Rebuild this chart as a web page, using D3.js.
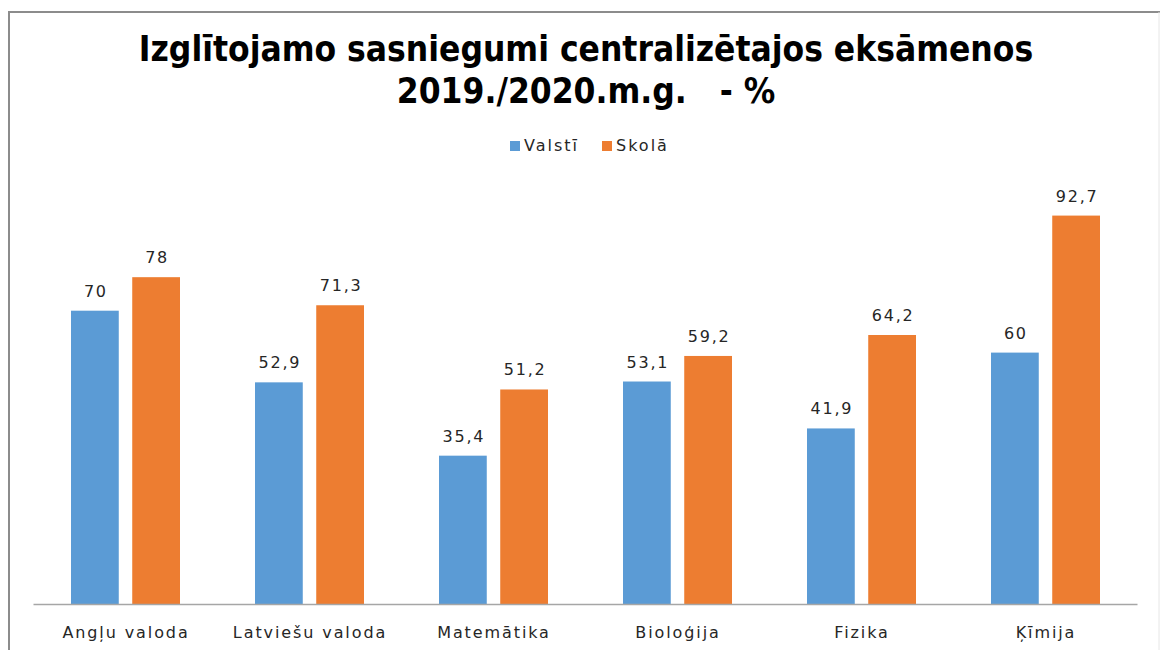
<!DOCTYPE html>
<html>
<head>
<meta charset="utf-8">
<script src="https://cdn.jsdelivr.net/npm/d3@7"></script>
<style>
  body { margin: 0; background: #fff; }
  svg text { font-family: "DejaVu Sans", sans-serif; }
</style>
</head>
<body>
<svg id="chart"></svg>
<script>
const subjects = ["Angļu valoda", "Latviešu valoda", "Matemātika", "Bioloģija", "Fizika", "Ķīmija"];
const seriesNames = ["Valstī", "Skolā"];
const valsti = [70, 52.9, 35.4, 53.1, 41.9, 60];
const skola = [78, 71.3, 51.2, 59.2, 64.2, 92.7];
const seriesColors = ["#5b9bd5", "#ed7d31"];
const titleLines = ["Izglītojamo sasniegumi centralizētajos eksāmenos", "2019./2020.m.g.   - %"];

const width = 1160, height = 650;
const svg = d3.select("#chart").attr("width", width).attr("height", height);

// frame
svg.append("path")
   .attr("d", `M9,${height} V12 H${width}`)
   .attr("fill", "none").attr("stroke", "#8c8c8c").attr("stroke-width", 2);
svg.append("line")
   .attr("x1", width - 1).attr("x2", width - 1).attr("y1", 12).attr("y2", height)
   .attr("stroke", "#e6e6e6");

// title
svg.selectAll(".title")
   .data(titleLines).enter()
   .append("text")
   .attr("class", "title")
   .attr("x", 586)
   .attr("y", (d, i) => 61 + i * 42)
   .attr("text-anchor", "middle")
   .style("font-family", "'DejaVu Sans Condensed', sans-serif")
   .style("font-weight", "bold")
   .style("font-size", "35px")
   .style("white-space", "pre")
   .attr("fill", "#000")
   .text(d => d);

const margin = {left: 33, right: 23, bottom: 46};
const x0 = d3.scaleBand()
             .domain(subjects)
             .range([margin.left, width - margin.right]);
const x1 = d3.scaleBand()
             .domain(seriesNames)
             .range([38, x0.bandwidth() - 37])
             .paddingInner(0.22);
const y = d3.scaleLinear()
            .domain([0, 100])
            .range([height - margin.bottom, height - margin.bottom - 419]);

const rows = subjects.map((s, i) => ({subject: s, values: [valsti[i], skola[i]]}));

const groups = svg.selectAll(".grp")
                  .data(rows).enter()
                  .append("g")
                  .attr("class", "grp")
                  .attr("transform", d => `translate(${x0(d.subject)},0)`);

groups.selectAll("rect")
      .data(d => d.values.map((v, j) => ({name: seriesNames[j], v: v, j: j}))).enter()
      .append("rect")
      .attr("x", d => x1(d.name))
      .attr("y", d => y(d.v))
      .attr("width", x1.bandwidth())
      .attr("height", d => y(0) - y(d.v))
      .attr("fill", d => seriesColors[d.j]);

groups.selectAll(".amount")
      .data(d => d.values.map((v, j) => ({name: seriesNames[j], v: v}))).enter()
      .append("text")
      .attr("class", "amount")
      .attr("x", d => x1(d.name) + x1.bandwidth() / 2 + 1)
      .attr("y", d => y(d.v) - 14)
      .attr("text-anchor", "middle")
      .style("font-size", "16px")
      .style("letter-spacing", "1.8px")
      .attr("fill", "#262626")
      .text(d => String(d.v).replace(".", ","));

// x axis
const xAxis = svg.append("g")
   .attr("transform", `translate(0,${y(0)})`)
   .call(d3.axisBottom(x0).tickSize(0).tickPadding(23));
xAxis.select(".domain").attr("stroke", "#a6a6a6").attr("stroke-width", 1.5);
xAxis.selectAll("text")
     .style("font-family", "'DejaVu Sans', sans-serif")
     .style("font-size", "16px")
     .style("letter-spacing", "1.9px")
     .attr("dx", 1)
     .attr("fill", "#262626");

// legend
const legend = svg.append("g").attr("transform", "translate(510,141)");
const legendX = [0, 92];
legend.selectAll("rect")
      .data(seriesNames).enter()
      .append("rect")
      .attr("x", (d, i) => legendX[i])
      .attr("width", 10).attr("height", 10)
      .attr("fill", (d, i) => seriesColors[i]);
legend.selectAll("text")
      .data(seriesNames).enter()
      .append("text")
      .attr("x", (d, i) => legendX[i] + 14)
      .attr("y", 10)
      .style("font-size", "16px")
      .style("letter-spacing", "2px")
      .attr("fill", "#262626")
      .text(d => d);
</script>
</body>
</html>
